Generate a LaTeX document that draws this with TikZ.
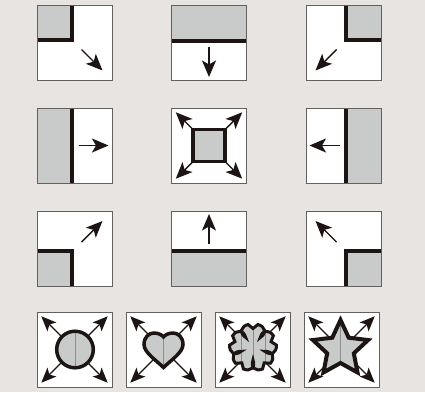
\documentclass[tikz,border=0pt]{standalone}
\usepackage{tikz}
\usetikzlibrary{arrows.meta,positioning}
\definecolor{Back}{HTML}{E8E4E2}
\definecolor{Ink}{HTML}{1C1514}
\definecolor{Shade}{HTML}{C9CBCA}
\definecolor{Frame}{HTML}{646060}
\definecolor{Seam}{HTML}{8A8D8C}
\newcommand{\heartoutline}{(0,-18) .. controls (-7,-11) and (-19.5,-3) .. (-19.5,5)
  .. controls (-19.5,12.5) and (-14.5,16.5) .. (-9.5,16.5) .. controls (-5,16.5) and (-1.5,14.5) .. (0,12.5)
  .. controls (1.5,14.5) and (5,16.5) .. (9.5,16.5) .. controls (14.5,16.5) and (19.5,12.5) .. (19.5,5)
  .. controls (19.5,-3) and (7,-11) .. (0,-18) -- cycle}
\newcommand{\bloomoutline}{(54:12.5) \foreach \a in {90,162,234,306,378} {
  .. controls (\a-44:20) and (\a-30:24.5) .. (\a-12:23.5) -- (\a:19) -- (\a+12:23.5)
  .. controls (\a+30:24.5) and (\a+44:20) .. (\a+36:12.5)} -- cycle}
\newcommand{\staroutline}{(90:29) \foreach \i in {0,...,4} {
  -- (126+72*\i:14) -- (162+72*\i:29)} -- cycle}

\begin{document}
\begin{tikzpicture}[x=1pt,y=1pt,
  node distance=28pt and 59.5pt,
  tile/.style={draw=Frame,line width=0.9pt,fill=white,minimum size=75pt,inner sep=0pt,outer sep=0pt},
  wall/.style={draw=Ink,line width=4pt},
  arr/.style={-{Stealth[length=16.5pt,width=14pt,inset=4pt]},line width=1.4pt,draw=Ink,fill=Ink},
  burst/.style={-{Stealth[length=15pt,width=12.5pt,inset=3.5pt]},line width=1.3pt,draw=Ink,fill=Ink},
  rim/.style={draw=Ink,line width=3.5pt,line join=miter},
  seam/.style={draw=Seam,line width=0.7pt}]
\fill[Back] (0,0) rectangle (425,-392);
\useasboundingbox (0,0) rectangle (425,-392);
% grid of tiles
\node[tile] (nw) at (74.5,-42.5) {};
\node[tile,right=of nw] (n) {};
\node[tile,right=of n] (ne) {};
\node[tile,below=of nw] (w) {};
\node[tile,right=of w] (hub) {};
\node[tile,right=of hub] (e) {};
\node[tile,below=of w] (sw) {};
\node[tile,right=of sw] (s) {};
\node[tile,right=of s] (se) {};
% shape tiles
\node[tile,below=26pt of sw] (ring) {};
\node[tile,right=14pt of ring] (heart) {};
\node[tile,right=14pt of heart] (bloom) {};
\node[tile,right=14pt of bloom] (spark) {};

% top row
\begin{scope}[shift={(nw.center)}]
  \fill[Shade] (-37,37) rectangle (-2.5,2.5);
  \draw[wall] (-37,2.5) -| (-2.5,37);
  \draw[arr] (7,-7) -- (28,-28);
\end{scope}
\begin{scope}[shift={(n.center)}]
  \fill[Shade] (-37,37) rectangle (37,2);
  \draw[wall] (-37,2) -- (37,2);
  \draw[arr] (0,-4.5) -- (0,-34.5);
\end{scope}
\begin{scope}[shift={(ne.center)}]
  \fill[Shade] (2.5,37) rectangle (37,2.5);
  \draw[wall] (37,2.5) -| (2.5,37);
  \draw[arr] (-7,-7) -- (-28,-28);
\end{scope}

% middle row
\begin{scope}[shift={(w.center)}]
  \fill[Shade] (-37,-37) rectangle (-2.5,37);
  \draw[wall] (-2.5,-37) -- (-2.5,37);
  \draw[arr] (4,0) -- (34,0);
\end{scope}
\begin{scope}[shift={(hub.center)}]
  \foreach \a in {45,135,225,315}
    \draw[arr] (\a:22) -- (\a:47);
  \filldraw[rim,fill=Shade] (-16,-16) rectangle (16,16);
\end{scope}
\begin{scope}[shift={(e.center)}]
  \fill[Shade] (2,-37) rectangle (37,37);
  \draw[wall] (2,-37) -- (2,37);
  \draw[arr] (-4,0) -- (-34,0);
\end{scope}

% bottom row
\begin{scope}[shift={(sw.center)}]
  \fill[Shade] (-37,-37) rectangle (-2.5,-2);
  \draw[wall] (-37,-2) -| (-2.5,-37);
  \draw[arr] (7,6.5) -- (28,27.5);
\end{scope}
\begin{scope}[shift={(s.center)}]
  \fill[Shade] (-37,-37) rectangle (37,-2);
  \draw[wall] (-37,-2) -- (37,-2);
  \draw[arr] (0,5) -- (0,34.5);
\end{scope}
\begin{scope}[shift={(se.center)}]
  \fill[Shade] (2,-37) rectangle (37,-2);
  \draw[wall] (37,-2) -| (2,-37);
  \draw[arr] (-7,6.5) -- (-28,27.5);
\end{scope}

% shapes with bursts
\begin{scope}[shift={(ring.center)}]
  \foreach \a in {45,135,225,315}
    \draw[burst] (0,0) -- (\a:47);
  \fill[Shade] (0.5,0) circle (18.3);
  \draw[seam] (0.5,-18) -- (0.5,18);
  \draw[rim] (0.5,0) circle (18.3);
\end{scope}
\begin{scope}[shift={(heart.center)}]
  \foreach \a in {45,135,225,315}
    \draw[burst] (0,0) -- (\a:47);
  \fill[Shade] \heartoutline;
  \draw[seam] (0,-18) -- (0,12.5);
  \draw[rim] \heartoutline;
\end{scope}
\begin{scope}[shift={(bloom.center)}]
  \foreach \a in {45,135,225,315}
    \draw[burst] (0,0) -- (\a:47);
  \begin{scope}[shift={(0.5,2)}]
    \begin{scope}
      \clip \bloomoutline;
      \fill[Shade] (-26,-26) rectangle (26,26);
      \foreach \x in {-12,0.5,12}
        \draw[seam] (\x,-26) -- (\x,26);
    \end{scope}
    \draw[rim,line width=3pt] \bloomoutline;
  \end{scope}
\end{scope}
\begin{scope}[shift={(spark.center)}]
  \foreach \a in {45,135,225,315}
    \draw[burst] (0,0) -- (\a:47);
  \begin{scope}[shift={(-1,0.5)}]
    \fill[Shade] \staroutline;
    \draw[seam] (0,-14) -- (0,29);
    \draw[rim,line width=4pt] \staroutline;
  \end{scope}
\end{scope}
\end{tikzpicture}
\end{document}
